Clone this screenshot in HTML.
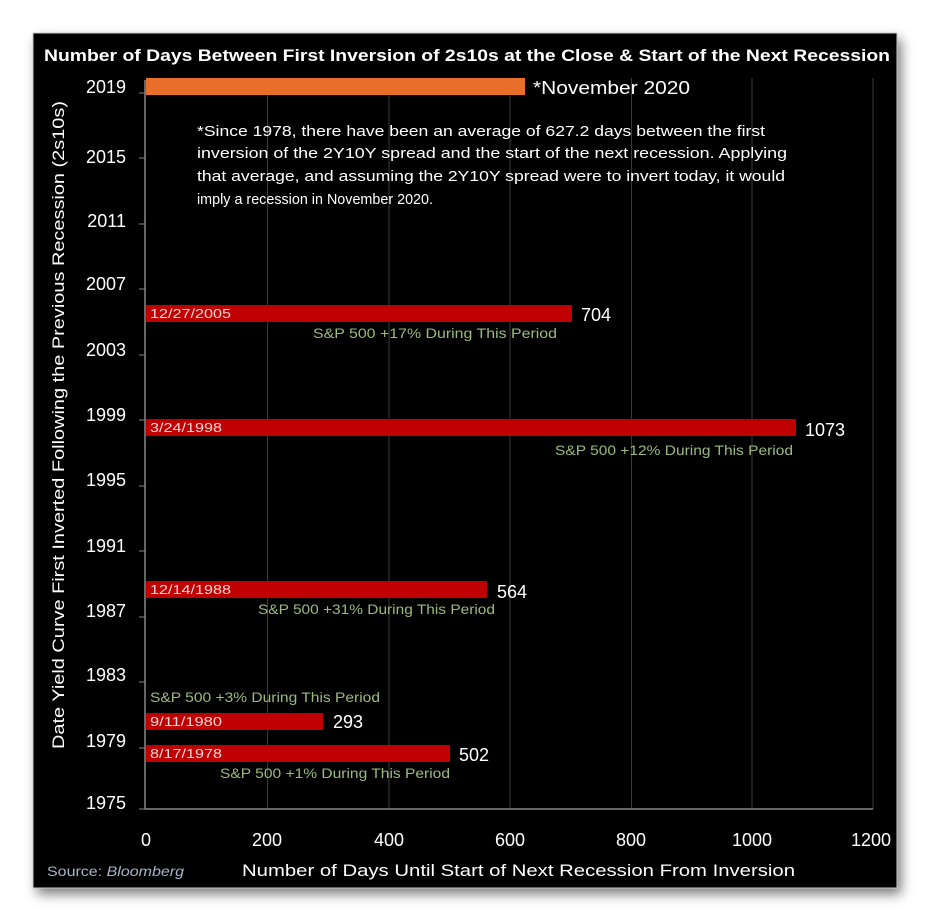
<!DOCTYPE html>
<html><head><style>body{margin:0;background:#fff}svg{display:block}</style></head>
<body>
<svg width="932" height="922" xmlns="http://www.w3.org/2000/svg" font-family="Liberation Sans, sans-serif">
<defs><filter id="sh" x="-10%" y="-10%" width="120%" height="120%"><feGaussianBlur stdDeviation="6"/></filter></defs>
<rect x="0" y="0" width="932" height="922" fill="#fff"/>
<rect x="37" y="39" width="864" height="855" fill="#777" filter="url(#sh)"/>
<rect x="33" y="33" width="864" height="855" fill="#000" stroke="#ccc" stroke-width="1"/>
<text x="44" y="61" fill="#fff" font-weight="bold" font-size="17" textLength="846" lengthAdjust="spacingAndGlyphs">Number of Days Between First Inversion of 2s10s at the Close &amp; Start of the Next Recession</text>
<g stroke="#3a3a3a" stroke-width="1">
<line x1="267.5" y1="78" x2="267.5" y2="809"/><line x1="389" y1="78" x2="389" y2="809"/>
<line x1="510" y1="78" x2="510" y2="809"/><line x1="631.5" y1="78" x2="631.5" y2="809"/>
<line x1="752" y1="78" x2="752" y2="809"/><line x1="873" y1="78" x2="873" y2="809"/>
</g>
<g stroke="#888" stroke-width="1.5">
<line x1="145" y1="80" x2="145" y2="809"/><line x1="145" y1="809" x2="873" y2="809"/>
</g>
<g stroke="#888" stroke-width="1">
<line x1="139" y1="93" x2="145" y2="93"/><line x1="139" y1="158" x2="145" y2="158"/><line x1="139" y1="224" x2="145" y2="224"/>
<line x1="139" y1="289" x2="145" y2="289"/><line x1="139" y1="355" x2="145" y2="355"/><line x1="139" y1="420" x2="145" y2="420"/>
<line x1="139" y1="486" x2="145" y2="486"/><line x1="139" y1="551" x2="145" y2="551"/><line x1="139" y1="617" x2="145" y2="617"/>
<line x1="139" y1="682" x2="145" y2="682"/><line x1="139" y1="748" x2="145" y2="748"/><line x1="139" y1="809" x2="145" y2="809"/>
</g>
<g fill="#fff" font-size="18" text-anchor="end">
<text x="126" y="93">2019</text><text x="126" y="163">2015</text><text x="126" y="227">2011</text>
<text x="126" y="290">2007</text><text x="126" y="356">2003</text><text x="126" y="421">1999</text>
<text x="126" y="486">1995</text><text x="126" y="552">1991</text><text x="126" y="617">1987</text>
<text x="126" y="681">1983</text><text x="126" y="747">1979</text><text x="126" y="809">1975</text>
</g>
<g fill="#fff" font-size="18" text-anchor="middle">
<text x="146" y="846">0</text><text x="267" y="846">200</text><text x="389" y="846">400</text>
<text x="510" y="846">600</text><text x="631" y="846">800</text><text x="752" y="846">1000</text><text x="871" y="846">1200</text>
</g>
<text x="242" y="876" fill="#fff" font-size="17" textLength="553" lengthAdjust="spacingAndGlyphs">Number of Days Until Start of Next Recession From Inversion</text>
<text x="47" y="876" fill="#a8b4c8" font-size="14" textLength="137" lengthAdjust="spacingAndGlyphs">Source: <tspan font-style="italic">Bloomberg</tspan></text>
<text transform="translate(64,425) rotate(-90)" fill="#fff" font-size="17" text-anchor="middle" textLength="648" lengthAdjust="spacingAndGlyphs">Date Yield Curve First Inverted Following the Previous Recession (2s10s)</text>
<rect x="146" y="78" width="379" height="17" fill="#e86e2a"/>
<text x="533" y="94" fill="#fff" font-size="18" textLength="157" lengthAdjust="spacingAndGlyphs">*November 2020</text>
<g fill="#fff" font-size="15">
<text x="197" y="136" textLength="568" lengthAdjust="spacingAndGlyphs">*Since 1978, there have been an average of 627.2 days between the first</text>
<text x="197" y="158" textLength="590" lengthAdjust="spacingAndGlyphs">inversion of the 2Y10Y spread and the start of the next recession. Applying</text>
<text x="197" y="181" textLength="588" lengthAdjust="spacingAndGlyphs">that average, and assuming the 2Y10Y spread were to invert today, it would</text>
<text x="197" y="204" textLength="236" lengthAdjust="spacingAndGlyphs">imply a recession in November  2020.</text>
</g>
<g fill="#c00000">
<rect x="146" y="305" width="426" height="17"/>
<rect x="146" y="419" width="650" height="17"/>
<rect x="146" y="581" width="341" height="17"/>
<rect x="146" y="713" width="177" height="17"/>
<rect x="146" y="745" width="304" height="17"/>
</g>
<g fill="#f4d6d6" font-size="13">
<text x="150" y="318" textLength="81" lengthAdjust="spacingAndGlyphs">12/27/2005</text>
<text x="150" y="432" textLength="72" lengthAdjust="spacingAndGlyphs">3/24/1998</text>
<text x="150" y="594" textLength="81" lengthAdjust="spacingAndGlyphs">12/14/1988</text>
<text x="150" y="726" textLength="72" lengthAdjust="spacingAndGlyphs">9/11/1980</text>
<text x="150" y="758" textLength="72" lengthAdjust="spacingAndGlyphs">8/17/1978</text>
</g>
<g fill="#fff" font-size="18">
<text x="581" y="321">704</text><text x="805" y="436">1073</text><text x="497" y="598">564</text>
<text x="333" y="728">293</text><text x="459" y="761">502</text>
</g>
<g fill="#9bbb7e" font-size="14">
<text x="313" y="338" textLength="244" lengthAdjust="spacingAndGlyphs">S&amp;P 500 +17% During This Period</text>
<text x="555" y="455" textLength="238" lengthAdjust="spacingAndGlyphs">S&amp;P 500 +12% During This Period</text>
<text x="258" y="614" textLength="237" lengthAdjust="spacingAndGlyphs">S&amp;P 500 +31% During This Period</text>
<text x="150" y="702" textLength="230" lengthAdjust="spacingAndGlyphs">S&amp;P 500 +3% During This Period</text>
<text x="220" y="778" textLength="230" lengthAdjust="spacingAndGlyphs">S&amp;P 500 +1% During This Period</text>
</g>
</svg>
</body></html>
